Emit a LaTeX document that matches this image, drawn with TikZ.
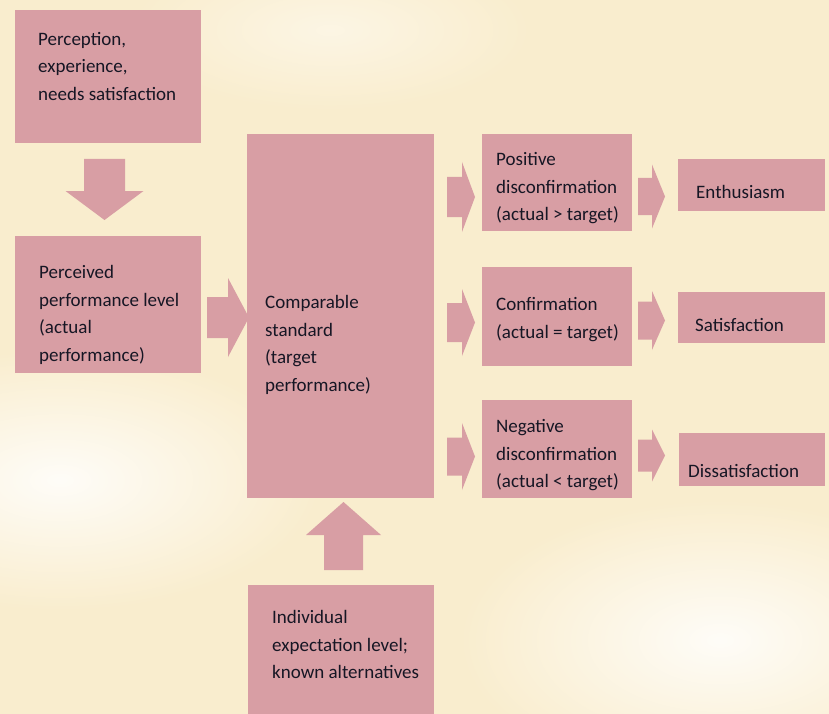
\documentclass[tikz,border=0pt]{standalone}
\usepackage{fontspec}
\setmainfont{Carlito}
\definecolor{bgcream}{RGB}{249,237,206}
\definecolor{boxpink}{RGB}{216,158,164}
\definecolor{txtdark}{RGB}{22,22,36}
\newcommand\harrow[6]{%
  \fill[boxpink] (#1,#4-#5) -- (#2,#4-#5) -- (#2,#4-#6) -- (#3,#4) -- (#2,#4+#6) -- (#2,#4+#5) -- (#1,#4+#5) -- cycle;}
\newcommand\varrow[6]{%
  \fill[boxpink] (#4-#5,#1) -- (#4-#5,#2) -- (#4-#6,#2) -- (#4,#3) -- (#4+#6,#2) -- (#4+#5,#2) -- (#4+#5,#1) -- cycle;}
\begin{document}
\begin{tikzpicture}[x=1pt,y=-1pt,
  box/.style={fill=boxpink,draw=none,rectangle,inner sep=0pt,anchor=north west},
  txt/.style={anchor=north west,inner sep=0pt,align=left,text=txtdark,
    font=\fontsize{19}{27.8}\selectfont}]
\useasboundingbox (0,0) rectangle (829,714);
\fill[bgcream] (0,0) rectangle (829,714);
\begin{scope}
\clip (0,0) rectangle (829,714);
\shade[inner color=white!85!bgcream,outer color=bgcream] (60,480) ellipse [x radius=260pt,y radius=130pt];
\shade[inner color=white!85!bgcream,outer color=bgcream] (720,640) ellipse [x radius=260pt,y radius=140pt];
\shade[inner color=white!45!bgcream,outer color=bgcream] (330,30) ellipse [x radius=200pt,y radius=80pt];
\end{scope}
% boxes
\node[box,minimum width=186pt,minimum height=133pt] (p1) at (15,10) {};
\node[box,minimum width=186pt,minimum height=137pt] (p2) at (15,236) {};
\node[box,minimum width=187pt,minimum height=364pt] (cs) at (247,134) {};
\node[box,minimum width=186pt,minimum height=135pt] (ie) at (248,585) {};
\node[box,minimum width=150pt,minimum height=97pt] (pd) at (482,134) {};
\node[box,minimum width=150pt,minimum height=99pt] (cf) at (482,267) {};
\node[box,minimum width=150pt,minimum height=98pt] (nd) at (482,400) {};
\node[box,minimum width=147pt,minimum height=52pt] (en) at (678,159) {};
\node[box,minimum width=147pt,minimum height=51pt] (sa) at (678,292) {};
\node[box,minimum width=146pt,minimum height=53pt] (ds) at (679,433) {};
% block arrows
\varrow{159}{191}{220}{104.5}{20.5}{39}
\varrow{570}{535}{502}{343.5}{19.5}{37.5}
\harrow{207}{228}{249}{317.5}{20.5}{39.5}
\harrow{447}{462}{475}{197}{20}{35}
\harrow{447}{462}{475}{322.5}{19.5}{33.5}
\harrow{447}{462}{475}{456.5}{19}{33.5}
\harrow{638}{652}{665}{196.5}{18.5}{32}
\harrow{638}{652}{665}{320.5}{19}{29.5}
\harrow{638}{652}{665}{455.5}{16}{26}
% texts
\node[txt] (t1) at (38,30) {\rule{0pt}{15pt}Perception,\\experience,\\needs satisfaction};
\node[txt] (t2) at (39,263) {\rule{0pt}{15pt}Perceived\\performance level\\(actual\\performance)};
\node[txt] (t3) at (265,293) {\rule{0pt}{15pt}Comparable\\standard\\(target\\performance)};
\node[txt] (t4) at (272,608) {\rule{0pt}{15pt}Individual\\expectation level;\\known alternatives};
\node[txt] (t5) at (496,150) {\rule{0pt}{15pt}Positive\\disconfirmation\\(actual > target)};
\node[txt] (t6) at (496,295) {\rule{0pt}{15pt}Confirmation\\(actual = target)};
\node[txt] (t7) at (496,417) {\rule{0pt}{15pt}Negative\\disconfirmation\\(actual < target)};
\node[txt] (t8) at (696,183) {\rule{0pt}{15pt}Enthusiasm};
\node[txt] (t9) at (695,316) {\rule{0pt}{15pt}Satisfaction};
\node[txt] (t10) at (688,462) {\rule{0pt}{15pt}Dissatisfaction};
\end{tikzpicture}
\end{document}
